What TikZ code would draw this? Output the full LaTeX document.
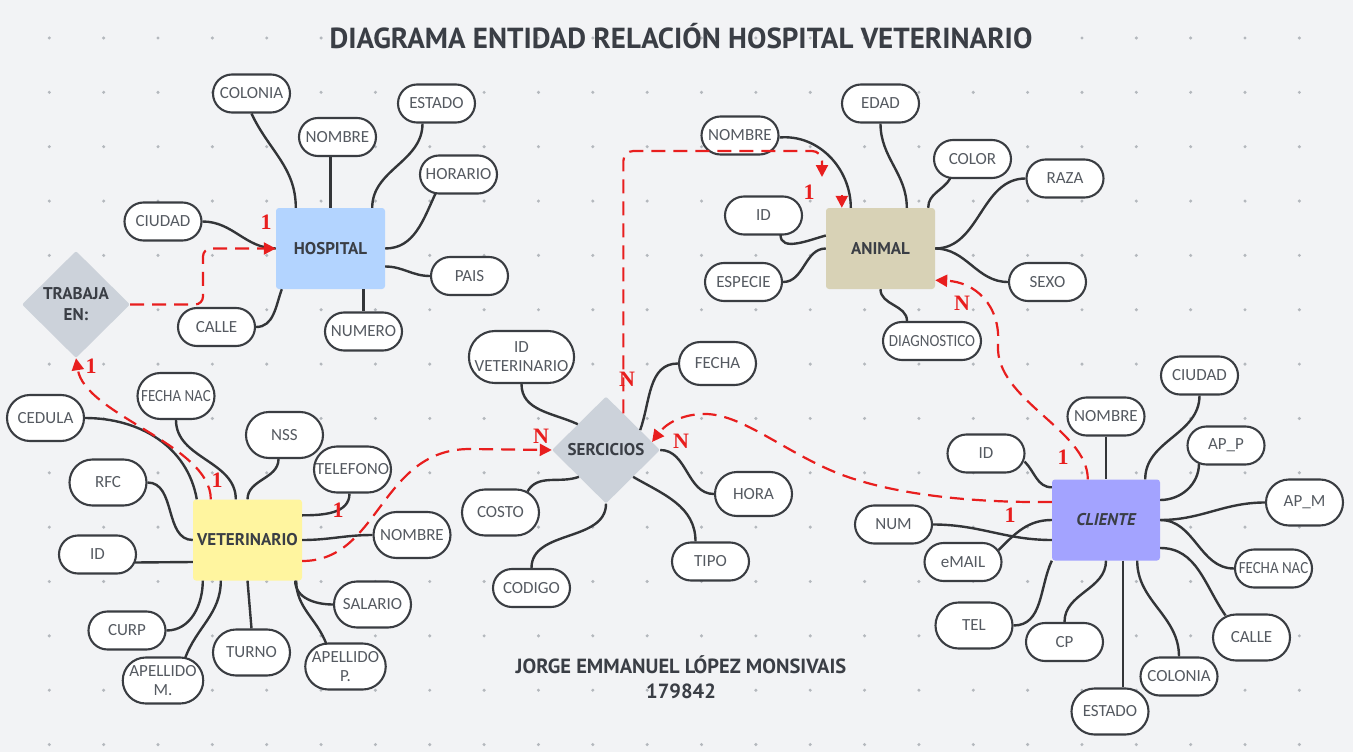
\documentclass[tikz,border=0pt]{standalone}
\usepackage{fontspec}
\usetikzlibrary{arrows.meta, shapes.geometric, shapes.misc, calc}

\newfontfamily\attrfont{Carlito}
\newfontfamily\narrowfont[FakeStretch=0.88]{Carlito}
\newfontfamily\entfont{PT Sans}
\newfontfamily\titlefont{PT Sans}
\newfontfamily\cardfont{Liberation Serif}

\definecolor{bgcol}{HTML}{F2F3F5}
\definecolor{dotcol}{HTML}{B4B8BD}
\definecolor{titletext}{HTML}{3A3E45}
\definecolor{attrtext}{HTML}{555A61}
\definecolor{edgecol}{HTML}{3A3D42}
\definecolor{linecol}{HTML}{333538}
\definecolor{relred}{HTML}{E81E1E}
\definecolor{relgray}{HTML}{CCD2DA}
\definecolor{hospblue}{HTML}{B3D4FF}
\definecolor{vetyellow}{HTML}{FFF59F}
\definecolor{animalkhaki}{HTML}{D8D2B6}
\definecolor{clientblue}{HTML}{A3A3FF}

\begin{document}
\begin{tikzpicture}[x=1pt, y=-1pt,
    attr/.style={rounded rectangle, draw=edgecol, line width=2.1pt, fill=white, text=attrtext, minimum width=79pt, minimum height=38pt, inner xsep=1pt, inner ysep=1pt, align=center, font=\attrfont\fontsize{17}{19}\selectfont},
    tall/.style={minimum height=46pt},
    narrow/.style={font=\narrowfont\fontsize{17}{19}\selectfont},
    entity/.style={rectangle, rounded corners=3pt, minimum width=109pt, minimum height=81pt, text=titletext, font=\entfont\bfseries\fontsize{17}{19}\selectfont},
    relation/.style={diamond, fill=relgray, rounded corners=2pt, minimum width=108pt, minimum height=107pt, inner sep=0pt, align=center, text=titletext, font=\entfont\bfseries\fontsize{17}{21}\selectfont},
    link/.style={draw=linecol, line width=2.4pt},
    rel/.style={draw=relred, line width=2.2pt, dash pattern=on 14pt off 8pt, -{Triangle[length=12pt, width=12pt]}},
    card/.style={text=relred, inner sep=0pt, font=\cardfont\bfseries\fontsize{22}{22}\selectfont}
]
% background and dot grid
\fill[bgcol] (0,0) rectangle (1353,752);
\foreach \i in {0,...,23}
  \foreach \j in {0,...,13}
    \fill[dotcol] (49.3+54.35*\i, 38+54.35*\j) circle (1.7pt);

% title
\node[text=titletext, font=\titlefont\bfseries\fontsize{29}{31}\selectfont] (title) at (681,36) {DIAGRAMA ENTIDAD RELACIÓN HOSPITAL VETERINARIO};

% Hospital
\node[entity, fill=hospblue] (hos) at (330.5,248.5) {HOSPITAL};
\node[attr] (hcol) at (251.5,93.5) {COLONIA};
\node[attr] (hnom) at (337.5,137) {NOMBRE};
\node[attr] (hest) at (436.5,103.5) {ESTADO};
\node[attr] (hhor) at (458.5,174.5) {HORARIO};
\node[attr] (hciu) at (163,221.5) {CIUDAD};
\node[attr] (hpai) at (469.5,276) {PAIS};
\node[attr] (hcal) at (216.5,327) {CALLE};
\node[attr] (hnum) at (363.5,331.5) {NUMERO};

\node[relation] (trab) at (76,304.5) {TRABAJA\\EN:};

% Veterinario
\node[entity, fill=vetyellow] (vet) at (247.5,540) {VETERINARIO};
\node[attr, tall] (vced) at (45.5,418) {CEDULA};
\node[attr, tall, narrow] (vfec) at (176,396) {FECHA NAC};
\node[attr, tall] (vnss) at (284.5,435) {NSS};
\node[attr, tall] (vtel) at (352.5,469.5) {TELEFONO};
\node[attr, tall] (vrfc) at (108,482.5) {RFC};
\node[attr] (vid) at (97.5,554.5) {ID};
\node[attr, tall] (vnom) at (412,535) {NOMBRE};
\node[attr, tall] (vsal) at (372.5,604.5) {SALARIO};
\node[attr] (vcur) at (127,630.5) {CURP};
\node[attr, tall] (vtur) at (251.5,652.5) {TURNO};
\node[attr, tall] (vapm) at (163,680.5) {APELLIDO\\M.};
\node[attr, tall] (vapp) at (345.5,666.5) {APELLIDO\\P.};

% Sercicios
\node[relation] (ser) at (606,450) {SERCICIOS};
\node[attr, minimum width=99pt, minimum height=52pt] (sidv) at (521.5,357) {ID\\VETERINARIO};
\node[attr, minimum height=43pt] (sfec) at (717.5,363.5) {FECHA};
\node[attr, tall] (scos) at (500.5,512.5) {COSTO};
\node[attr, minimum height=44pt] (shor) at (753.5,494) {HORA};
\node[attr] (scod) at (531.5,588) {CODIGO};
\node[attr] (stip) at (710.5,561.5) {TIPO};

% Animal
\node[entity, fill=animalkhaki] (anm) at (880.5,248.5) {ANIMAL};
\node[attr] (aeda) at (880.5,103.5) {EDAD};
\node[attr] (anom) at (740,135.5) {NOMBRE};
\node[attr] (acol) at (972.5,159) {COLOR};
\node[attr] (araz) at (1065,178.5) {RAZA};
\node[attr] (aid) at (763.5,215.5) {ID};
\node[attr] (aesp) at (743.5,282) {ESPECIE};
\node[attr] (asex) at (1047.5,282) {SEXO};
\node[attr, minimum width=100pt, narrow] (adia) at (932,341) {DIAGNOSTICO};

% Cliente
\node[entity, fill=clientblue, minimum width=108pt] (cli) at (1106,520) {\itshape CLIENTE};
\node[attr] (cciu) at (1199.5,375.5) {CIUDAD};
\node[attr] (cnom) at (1106,416.5) {NOMBRE};
\node[attr] (cid) at (986,453.5) {ID};
\node[attr] (capp) at (1226,445.5) {AP\_P};
\node[attr, tall] (capm) at (1304.5,502.5) {AP\_M};
\node[attr] (cnum) at (893.5,524.5) {NUM};
\node[attr] (cema) at (963,562) {eMAIL};
\node[attr, narrow] (cfec) at (1273.5,568.5) {FECHA NAC};
\node[attr, tall] (ctel) at (974,625.5) {TEL};
\node[attr] (ccp) at (1064.5,642) {CP};
\node[attr, tall] (ccal) at (1251.5,637.5) {CALLE};
\node[attr] (ccol) at (1179,676.5) {COLONIA};
\node[attr, tall] (cest) at (1110,711.5) {ESTADO};

% author
\node[text=titletext, align=center, font=\titlefont\bfseries\fontsize{20.5}{25}\selectfont] (autor) at (681,677) {JORGE EMMANUEL LÓPEZ MONSIVAIS\\179842};

% Hospital attributes
\draw[link] (hcol.south) to[out=-65, in=90] ($(hos.north west)+(20,0)$);
\draw[link] (hos.north) -- (hos.north |- hnom.south);
\draw[link] ($(hest.south)+(-14,0)$) to[out=-90, in=90] ($(hos.north east)+(-13,0)$);
\draw[link] ($(hhor.south)+(-23,-1)$) to[out=-115, in=0] (hos.east);
\draw[link] ($(hos.east)+(0,18)$) to[out=0, in=180] (hpai.west);
\draw[link] (hnum.north |- hos.south) -- (hnum.north);
\draw[link] (hcal.east) to[out=0, in=-110] ($(hos.south west)+(6,0)$);
\draw[link] (hciu.east) to[out=0, in=180] (hos.west);

% Veterinario attributes
\draw[link] (vced.east) to[out=0, in=100] ($(vet.north west)+(4,0)$);
\draw[link] (vfec.south) to[out=-90, in=90] ($(vet.north west)+(43,0)$);
\draw[link] ($(vnss.south)+(-6,0)$) to[out=-90, in=90] (vet.north);
\draw[link] ($(vtel.south)+(-3,0)$) to[out=-90, in=0] ($(vet.north east)+(0,16)$);
\draw[link] (vrfc.east) to[out=0, in=180] (vet.west);
\draw[link] ($(vet.west)+(0,22)$) -- ($(vid.east)+(-2,8)$);
\draw[link] (vet.east) to[out=0, in=180] (vnom.west);
\draw[link] ($(vet.south east)+(-7,0)$) to[out=-90, in=180] (vsal.west);
\draw[link] ($(vet.south east)+(-6,0)$) to[out=-90, in=110] ($(vapp.north)+(-19,2)$);
\draw[link] (vet.south) -- (vtur.north);
\draw[link] ($(vet.south west)+(28,0)$) to[out=-90, in=70] ($(vapm.north)+(22,2)$);
\draw[link] ($(vet.south west)+(10,0)$) to[out=-90, in=0] (vcur.east);

% Sercicios attributes
\draw[link] (sidv.south) to[out=-90, in=155] ($(ser.west)!0.48!(ser.north)$);
\draw[link] (sfec.west) to[out=180, in=70] ($(ser.north)!0.63!(ser.east)$);
\draw[link] (ser.east) to[out=0, in=180] (shor.west);
\draw[link] ($(ser.east)!0.5!(ser.south)$) to[out=-30, in=90] ($(stip.north)+(-15,0)$);
\draw[link] (ser.south) to[out=-90, in=90] (scod.north);
\draw[link] ($(ser.south)!0.5!(ser.west)$) to[out=-160, in=60] ($(scos.north)+(27,3)$);

% Animal attributes
\draw[link] ($(anom.east)+(0,2)$) to[out=5, in=90] ($(anm.north west)+(25,0)$);
\draw[link] (aeda.south) to[out=-90, in=90] ($(anm.north west)+(81,0)$);
\draw[link] ($(acol.south)+(-22,-1)$) to[out=-120, in=90] ($(anm.north east)+(-7,0)$);
\draw[link] (araz.west) to[out=180, in=0] (anm.east);
\draw[link] (anm.east) to[out=0, in=180] (asex.west);
\draw[link] ($(aid.south)+(17,-1)$) to[out=-90, in=195] ($(anm.west)+(0,-13)$);
\draw[link] (aesp.east) to[out=0, in=180] (anm.west);
\draw[link] (anm.south) to[out=-90, in=90] ($(adia.north)+(-25,0)$);

% Cliente attributes
\draw[link] (cnom.south) -- (cnom.south |- cli.north);
\draw[link] (cciu.south) to[out=-90, in=90] ($(cli.north east)+(-15,0)$);
\draw[link] ($(capp.south)+(-27,-2)$) to[out=-90, in=0] ($(cli.east)+(0,-20)$);
\draw[link] (capm.west) to[out=180, in=0] (cli.east);
\draw[link] (cli.east) to[out=0, in=180] (cfec.west);
\draw[link] ($(cli.east)+(0,28)$) to[out=0, in=125] ($(ccal.north)+(-26,2)$);
\draw[link] ($(cli.south east)+(-23,0)$) to[out=-90, in=90] (ccol.north);
\draw[link] ($(cli.south)+(17,0)$) -- ($(cest.north)+(13,0)$);
\draw[link] (cli.south) to[out=-90, in=90] (ccp.north);
\draw[link] (cli.south west) to[out=-115, in=0] (ctel.east);
\draw[link] (cli.west) to[out=180, in=45] ($(cema.east)+(-4,-12)$);
\draw[link] (cnum.east) to[out=0, in=180] ($(cli.west)+(0,20)$);
\draw[link] ($(cid.east)+(-1,8)$) to[out=-45, in=180] ($(cli.north west)+(0,8)$);

% Relationships (dashed)
\draw[rel, rounded corners=8pt] (trab.east) -| ($(trab.east)!0.5!(hos.west)$) |- (hos.west);
\draw[rel] ($(vet.north west)+(18,0)$) .. controls (211,445) and (85,415) .. (trab.south);
\draw[rel] ($(vet.east)+(0,21)$) .. controls (380,561) and (380,449) .. (470,449) -- (ser.west);
\coordinate (anmTip) at (822,177);
\draw[rel, rounded corners=10pt] ($(ser.north)!0.32!(ser.east)$) |- ($(anmTip)+(0,-26)$) -- (anmTip);
\draw[rel] ($(anm.north west)+(16,-13)$) -- ($(anm.north west)+(16,0)$);
\draw[rel] ($(cli.north west)+(36,0)$) .. controls (1088,430) and (995,400) .. (998,345) .. controls (1001,305) and (975,282) .. ($(anm.south east)+(0,-9)$);
\draw[rel] ($(cli.west)+(0,-18)$) .. controls (960,503) and (880,492) .. (830,470) .. controls (780,448) and (740,414) .. (705,414) .. controls (680,414) and (665,425) .. ($(ser.north)!0.85!(ser.east)$);

% cardinalities
\node[card] (c1hos) at (266,222) {1};
\node[card] (c1trab) at (91,366) {1};
\node[card] (c1vet) at (217,480) {1};
\node[card] (c1vser) at (338,510) {1};
\node[card] (cnser) at (541,436) {N};
\node[card] (cnsan) at (627,379) {N};
\node[card] (cnscl) at (681,441) {N};
\node[card] (c1anm) at (809,192) {1};
\node[card] (cnanm) at (962,303) {N};
\node[card] (c1cli) at (1063,457) {1};
\node[card] (c1cls) at (1010,515) {1};
\end{tikzpicture}
\end{document}
